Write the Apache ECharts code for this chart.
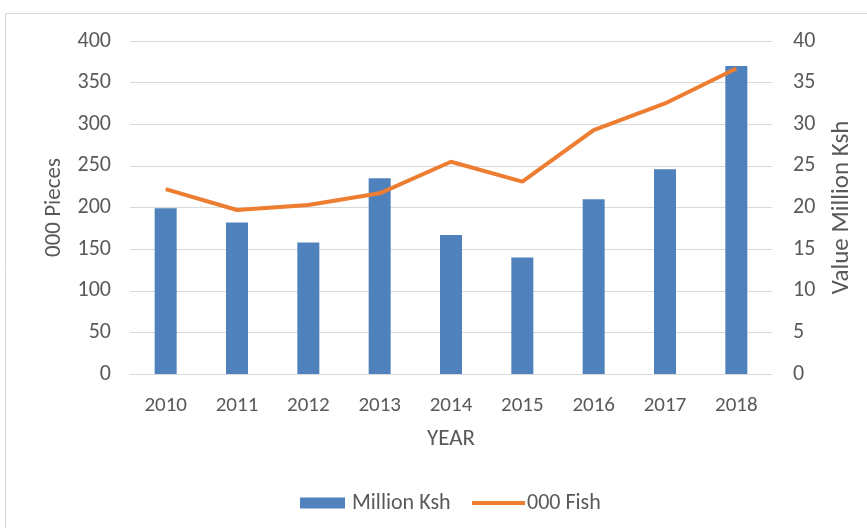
<!DOCTYPE html>
<html>
<head>
<meta charset="utf-8">
<script src="https://cdn.jsdelivr.net/npm/echarts@6/dist/echarts.min.js"></script>
<style>
  html, body { margin: 0; padding: 0; background: #ffffff; }
  #chart { width: 867px; height: 528px; }
</style>
</head>
<body>
<div id="chart"></div>
<script>
// Fish sales by year: value (bars, right axis) and quantity (line, left axis)
const years = ['2010', '2011', '2012', '2013', '2014', '2015', '2016', '2017', '2018'];
const valueMillionKsh = [19.9, 18.2, 15.8, 23.5, 16.7, 14.0, 21.0, 24.6, 37.0];
const fishThousands = [222, 197, 203, 217, 255, 231, 293, 325, 367];
const leftTicks = { min: 0, max: 400, interval: 50 };
const rightTicks = { min: 0, max: 40, interval: 5 };

const textColor = '#595959';
const fontFamily = 'Carlito, "Open Sans", "Liberation Sans", sans-serif';

const chart = echarts.init(document.getElementById('chart'), null, { renderer: 'canvas' });

chart.setOption({
  backgroundColor: '#ffffff',
  animation: false,
  textStyle: { fontFamily: fontFamily, color: textColor },
  graphic: [{
    type: 'rect',
    shape: { x: 5.5, y: 13.5, width: 870, height: 530 },
    style: { fill: 'none', stroke: '#d9d9d9', lineWidth: 1 },
    silent: true
  }],
  grid: { left: 130, right: 95, top: 41, bottom: 154, containLabel: false },
  // two single-entry legends so each key can have its own swatch size
  legend: [
    {
      left: 300,
      top: 492,
      padding: 0,
      itemWidth: 45,
      itemHeight: 11,
      textStyle: { fontSize: 22, color: textColor, fontFamily: fontFamily, padding: [0, 0, 0, 2] },
      data: [{ name: 'Million Ksh', icon: 'rect' }]
    },
    {
      left: 472,
      top: 492,
      padding: 0,
      itemWidth: 53,
      itemHeight: 11,
      textStyle: { fontSize: 22, color: textColor, fontFamily: fontFamily, padding: [0, 0, 0, -3] },
      data: [{ name: '000 Fish', icon: 'path://M0,0 L0,0 M0,3.5 L53,3.5 L53,7.5 L0,7.5 Z M53,11 L53,11' }]
    }
  ],
  xAxis: {
    type: 'category',
    data: years,
    name: 'YEAR',
    nameLocation: 'middle',
    nameGap: 54,
    nameTextStyle: { fontSize: 23, color: textColor },
    axisLine: { show: true, lineStyle: { color: '#d9d9d9', width: 1 } },
    axisTick: { show: false },
    axisLabel: { fontSize: 21, color: textColor, margin: 21 }
  },
  yAxis: [
    {
      type: 'value',
      min: leftTicks.min, max: leftTicks.max, interval: leftTicks.interval,
      name: '000 Pieces',
      nameLocation: 'middle',
      nameRotate: 90,
      nameGap: 64,
      nameTextStyle: { fontSize: 23, color: textColor },
      axisLine: { show: false },
      axisTick: { show: false },
      axisLabel: { fontSize: 22, color: textColor, margin: 19 },
      splitLine: { lineStyle: { color: '#d9d9d9', width: 1 } }
    },
    {
      type: 'value',
      min: rightTicks.min, max: rightTicks.max, interval: rightTicks.interval,
      name: 'Value Million Ksh',
      nameLocation: 'middle',
      nameRotate: 90,
      nameGap: 57,
      nameTextStyle: { fontSize: 25, color: textColor },
      axisLine: { show: false },
      axisTick: { show: false },
      axisLabel: { fontSize: 22, color: textColor, margin: 21 },
      splitLine: { show: false }
    }
  ],
  series: [
    {
      name: 'Million Ksh',
      type: 'bar',
      yAxisIndex: 1,
      data: valueMillionKsh,
      barWidth: 22,
      itemStyle: { color: '#4f81bd' }
    },
    {
      name: '000 Fish',
      type: 'line',
      yAxisIndex: 0,
      data: fishThousands,
      symbol: 'none',
      lineStyle: { color: '#ed7d31', width: 4 },
      itemStyle: { color: '#ed7d31' }
    }
  ]
});
</script>
</body>
</html>
